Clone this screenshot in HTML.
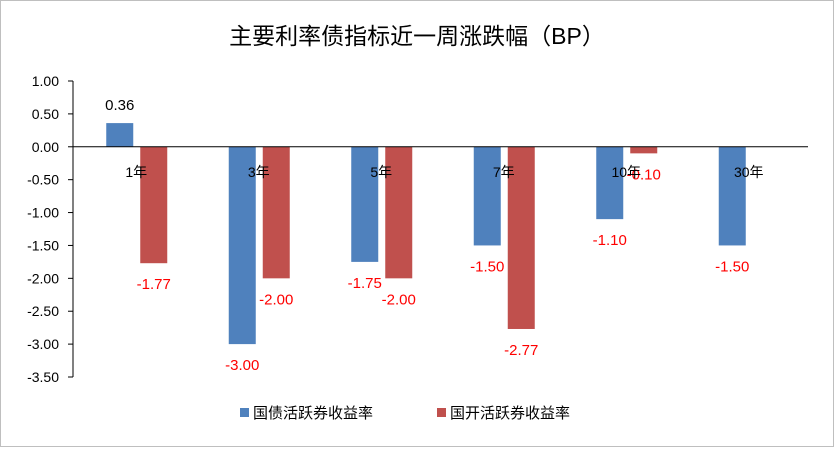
<!DOCTYPE html>
<html><head><meta charset="utf-8"><style>
body{margin:0;background:#fff;}
svg text{font-family:"Liberation Sans","Noto Sans CJK SC",sans-serif;}
</style></head><body>
<svg id="c" width="834" height="447">
<rect x="0.5" y="0.5" width="833" height="446" fill="#fff" stroke="#bfbfbf"/>
<text x="417" y="44" text-anchor="middle" font-size="23" fill="#000">主要利率债指标近一周涨跌幅（BP）</text>
<g id="plot"></g>
<g>
<rect x="240" y="408" width="9" height="9" fill="#4f81bd"/>
<text x="253" y="418" font-size="15">国债活跃券收益率</text>
<rect x="437" y="408" width="9" height="9" fill="#c0504d"/>
<text x="450" y="418" font-size="15">国开活跃券收益率</text>
</g>
</svg>
<script>
const categories=["1年","3年","5年","7年","10年","30年"];
const guozhai=[0.36,-3.00,-1.75,-1.50,-1.10,-1.50];
const guokai=[-1.77,-2.00,-2.00,-2.77,-0.10,null];
const yTicks=[1.00,0.50,0.00,-0.50,-1.00,-1.50,-2.00,-2.50,-3.00,-3.50];
const ns="http://www.w3.org/2000/svg";
const g=document.getElementById('plot');
const x0=73,x1=808,yTop=81,yBot=377,vMax=1,vMin=-3.5;
const y=v=>yTop+(vMax-v)/(vMax-vMin)*(yBot-yTop);
const bw=(x1-x0)/categories.length;
const cx=i=>x0+bw*(i+0.5);
function mk(t,a){const e=document.createElementNS(ns,t);for(const k in a)e.setAttribute(k,a[k]);g.appendChild(e);return e;}
const ax=mk('line',{x1:x0,x2:x0,y1:yTop,y2:yBot,stroke:'#000'});


yTicks.forEach(v=>{
 const t=mk('text',{x:x0-14,y:y(v)+5,'text-anchor':'end','font-size':14});
 
 
 t.textContent=v.toFixed(2);
 const l=mk('line',{x1:x0-5,x2:x0,y1:y(v),y2:y(v),stroke:'#000'});
 
 
});
function bars(arr,off,color,name){
 arr.forEach((v,i)=>{
  if(v===null)return;
  const bx=cx(i)+off, top=Math.min(y(v),y(0)), h=Math.abs(y(v)-y(0));
  const r=mk('rect',{x:bx,y:top,width:27,height:h,fill:color});
  
  
  const t=mk('text',{x:bx+13.5,y:v>=0?y(v)-13:y(v)+26,'text-anchor':'middle','font-size':15,fill:v<0?'#ff0000':'#000'});
  
  
  t.textContent=v.toFixed(2);
 });
}
bars(guozhai,-28,'#4f81bd','guozhai');
bars(guokai,6,'#c0504d','guokai');
const z=mk('line',{x1:x0,x2:x1,y1:y(0),y2:y(0),stroke:'#000'});


categories.forEach((c,i)=>{
 const t=mk('text',{x:cx(i)+2,y:y(0)+30,'text-anchor':'middle','font-size':14});
 
 
 t.textContent=c;
});
</script>
</body></html>
